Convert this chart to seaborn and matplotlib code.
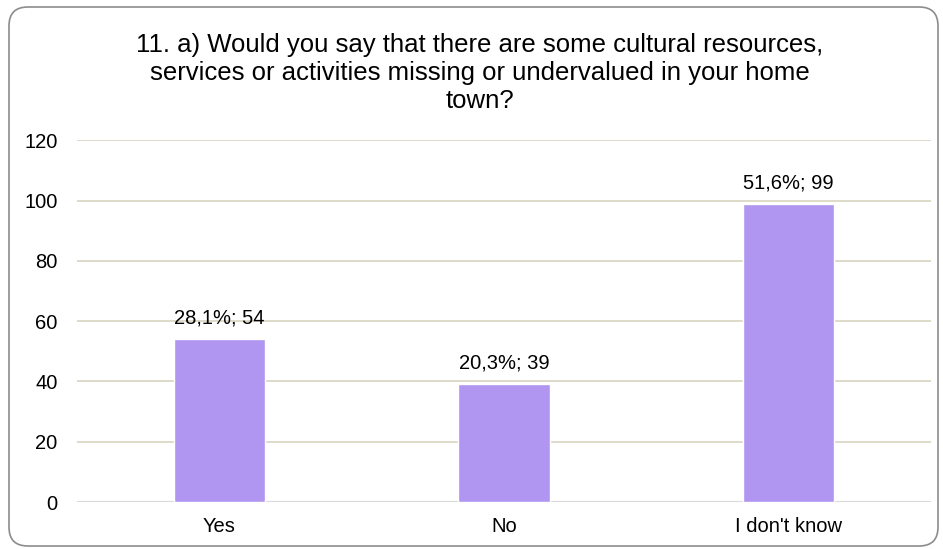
import matplotlib
matplotlib.use("Agg")
import matplotlib.pyplot as plt
from matplotlib.patches import FancyBboxPatch
import seaborn as sns
import pandas as pd

categories = ["Yes", "No", "I don't know"]
counts = [54, 39, 99]
percents = ["28,1%", "20,3%", "51,6%"]
y_ticks = [0, 20, 40, 60, 80, 100, 120]
title = ("11. a) Would you say that there are some cultural resources,\n"
         "services or activities missing or undervalued in your home\n"
         "town?")

sns.set_theme(style="white")
plt.rcParams["font.family"] = ["Liberation Sans", "DejaVu Sans"]

df = pd.DataFrame({"category": categories, "count": counts})

fig = plt.figure(figsize=(9.43, 5.49), dpi=100)
ax = fig.add_axes([0.0817, 0.0856, 0.9056, 0.659])

# rounded outer frame
frame = FancyBboxPatch((9 / 943, 1 - 546 / 549), 929 / 943, 539 / 549,
                       boxstyle="round,pad=0,rounding_size=0.02",
                       transform=fig.transFigure, fill=False,
                       edgecolor="#8c8c8c", linewidth=1.2, zorder=-1,
                       mutation_aspect=943 / 549)
fig.patches.append(frame)

sns.barplot(data=df, x="category", y="count", color="#b096f0",
            saturation=1, width=0.32, ax=ax, zorder=3)

ax.set_ylim(0, 120)
ax.set_yticks(y_ticks)
ax.set_xlim(-0.5, 2.5)
for t in y_ticks[1:]:
    ax.axhline(t, color="#dcd8c6", linewidth=1.3, zorder=1)
ax.axhline(0, color="#d9d9d9", linewidth=1.5, zorder=2)

for s in ax.spines.values():
    s.set_visible(False)

ax.set_xlabel("")
ax.set_ylabel("")
ax.tick_params(axis="both", length=0, labelsize=14.5, colors="#000000")
ax.tick_params(axis="y", pad=14)
ax.tick_params(axis="x", pad=11)

for i, (c, p) in enumerate(zip(counts, percents)):
    ax.text(i, c + 3.8, f"{p}; {c}", ha="center", va="bottom",
            fontsize=14.5, color="#000000", zorder=4)

fig.text(0.509, 0.94, title, ha="center", va="top", fontsize=18.5,
         linespacing=1.2, color="#000000")

fig.savefig("out.png", dpi=100, facecolor="white")
